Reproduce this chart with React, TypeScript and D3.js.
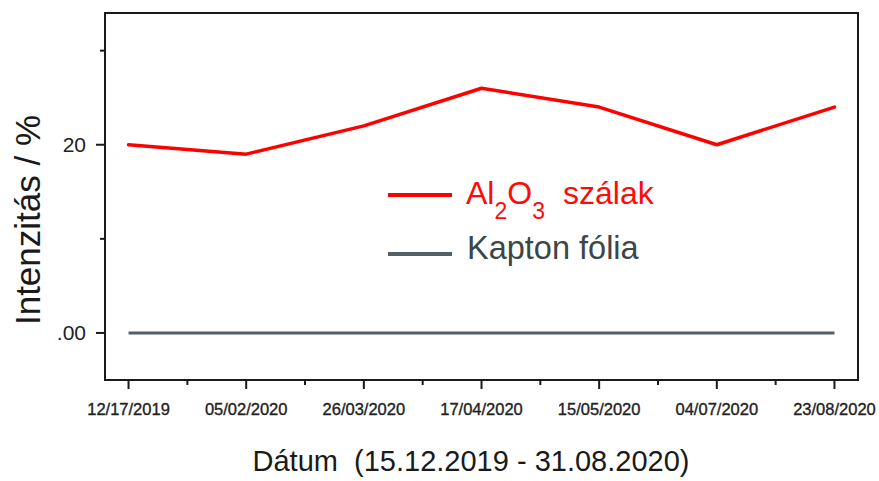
import React from "react";
import * as d3 from "d3";

const categories = ["12/17/2019", "05/02/2020", "26/03/2020", "17/04/2020", "15/05/2020", "04/07/2020", "23/08/2020"];
const al2o3Values = [20, 19, 22, 26, 24, 20, 24];
const kaptonValues = [0, 0, 0, 0, 0, 0, 0];
const yMajorTicks = [0, 20];
const yMajorLabels = [".00", "20"];
const yMinorTicks = [10, 30];

const W = 879;
const H = 481;
const L = 105, R = 858, T = 13, B = 380;
const FONT = "'Liberation Sans', Arial, sans-serif";

export default function App() {
  const x = d3.scalePoint<string>().domain(categories).range([L, R]).padding(0.2);
  const y = d3.scaleLinear().domain([-5, 34]).range([B, T]);
  const step = x.step();

  const line = d3
    .line<number>()
    .x((_, i) => x(categories[i]) as number)
    .y((d) => y(d));

  const minorX = categories.slice(0, -1).map((c) => (x(c) as number) + step / 2);

  return (
    <svg width={W} height={H} style={{ position: "absolute", left: 0, top: 0, background: "#fff" }}>
      <rect x={0} y={0} width={W} height={H} fill="#fff" />
      {/* data lines */}
      <path d={line(kaptonValues) || ""} fill="none" stroke="#4f6167" strokeWidth={3} />
      <path d={line(al2o3Values) || ""} fill="none" stroke="#ff0000" strokeWidth={3.5} strokeLinejoin="round" strokeLinecap="round" />

      {/* frame */}
      <rect x={L} y={T} width={R - L} height={B - T} fill="none" stroke="#1a1a1a" strokeWidth={2} />

      {/* x ticks */}
      {categories.map((c) => (
        <g key={c}>
          <line x1={x(c)} x2={x(c)} y1={B} y2={B + 9} stroke="#1a1a1a" strokeWidth={2} />
          <text x={x(c)} y={415} textAnchor="middle" fontFamily={FONT} fontSize={16.5} fill="#222" stroke="#222" strokeWidth={0.35}>
            {c}
          </text>
        </g>
      ))}
      {minorX.map((mx, i) => (
        <line key={i} x1={mx} x2={mx} y1={B} y2={B + 5} stroke="#1a1a1a" strokeWidth={2} />
      ))}

      {/* y ticks */}
      {yMajorTicks.map((t, i) => (
        <g key={t}>
          <line x1={L - 9} x2={L} y1={y(t)} y2={y(t)} stroke="#1a1a1a" strokeWidth={2} />
          <text x={86} y={y(t) + 7.5} textAnchor="end" fontFamily={FONT} fontSize={21} fill="#222">
            {yMajorLabels[i]}
          </text>
        </g>
      ))}
      {yMinorTicks.map((t) => (
        <line key={t} x1={L - 5} x2={L} y1={y(t)} y2={y(t)} stroke="#1a1a1a" strokeWidth={2} />
      ))}

      {/* axis titles */}
      <text
        transform="translate(40,220) rotate(-90)"
        textAnchor="middle"
        fontFamily={FONT}
        fontSize={35}
        fill="#1a1a1a"
      >
        Intenzitás / %
      </text>
      <text x={471} y={471} textAnchor="middle" fontFamily={FONT} fontSize={29} fill="#1a1a1a" style={{ whiteSpace: "pre" }}>
        {"Dátum  (15.12.2019 - 31.08.2020)"}
      </text>

      {/* legend */}
      <line x1={388} x2={452} y1={195} y2={195} stroke="#ff0000" strokeWidth={4} />
      <text x={466} y={204} fontFamily={FONT} fontSize={32} fill="#ff0a0a">
        Al
        <tspan fontSize={23} dy={15}>2</tspan>
        <tspan fontSize={32} dy={-15}>O</tspan>
        <tspan fontSize={23} dy={15}>3</tspan>
        <tspan fontSize={32} dy={-15} x={563}>szálak</tspan>
      </text>
      <line x1={388} x2={452} y1={254} y2={254} stroke="#4f6167" strokeWidth={4} />
      <text x={467} y={259} fontFamily={FONT} fontSize={32.5} fill="#3b4649">
        Kapton fólia
      </text>
    </svg>
  );
}
